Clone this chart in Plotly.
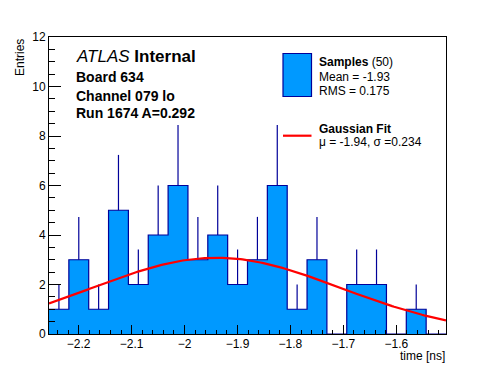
import numpy as np
import plotly.graph_objects as go

# ---------------- data ----------------
bin_low = -2.2561          # lower edge of first bin (ns)
bin_width = 0.0375         # bin width (ns)
counts = [1, 3, 1, 5, 2, 4, 6, 3, 4, 2, 3, 6, 1, 3, 0, 2, 2, 0, 1, 0]

fit_mu = -1.94
fit_sigma = 0.234
fit_amp = 3.08

x_range = [-2.2561, -1.5061]
y_range = [0, 12]
x_ticks = [-2.2, -2.1, -2.0, -1.9, -1.8, -1.7, -1.6]
y_ticks = [0, 2, 4, 6, 8, 10, 12]

legend_samples = ["<b>Samples</b> (50)", "Mean = -1.93", "RMS = 0.175"]
legend_fit = ["<b>Gaussian Fit</b>", "μ = -1.94, σ =0.234"]
info_lines = ["<i>ATLAS</i> <b>Internal</b>", "<b>Board 634</b>", "<b>Channel 079 lo</b>", "<b>Run 1674 A=0.292</b>"]

# ---------------- styling ----------------
OFF = 8                          # page body margin of the html page
W, H = 496 - OFF, 372 - OFF
L, R, T, B = 49, 446, 37, 334    # frame box in page pixels
FILL = "#0099ff"
EDGE = "#000099"
FONT = "Liberation Sans, Arial, Helvetica, sans-serif"


def px(xp):
    return (xp - L) / (R - L)


def py(yp):
    return (B - yp) / (B - T)


counts_arr = np.array(counts, dtype=float)
edges = bin_low + bin_width * np.arange(len(counts) + 1)
centers = 0.5 * (edges[:-1] + edges[1:])

fig = go.Figure()

# histogram as filled step outline
step_x = list(edges) + [edges[-1]]
step_y = list(counts_arr) + [counts_arr[-1], 0]
fig.add_trace(go.Scatter(
    x=step_x, y=step_y, mode="lines", line_shape="hv",
    line=dict(color=EDGE, width=1.2), fill="tozeroy", fillcolor=FILL,
    showlegend=False, hoverinfo="skip"))

# upper error bars (sqrt N)
mask = counts_arr > 0
fig.add_trace(go.Scatter(
    x=centers[mask], y=counts_arr[mask], mode="markers",
    marker=dict(size=1, color="rgba(0,0,0,0)"),
    error_y=dict(type="data", symmetric=False, array=np.sqrt(counts_arr[mask]),
                 arrayminus=np.zeros(mask.sum()), width=0, thickness=1.2, color=EDGE),
    showlegend=False, hoverinfo="skip"))

# gaussian fit curve
xf = np.linspace(x_range[0], x_range[1], 200)
yf = fit_amp * np.exp(-0.5 * ((xf - fit_mu) / fit_sigma) ** 2)
fig.add_trace(go.Scatter(x=xf, y=yf, mode="lines", line=dict(color="#ff0000", width=2.2),
                         showlegend=False, hoverinfo="skip"))

shapes = []
annotations = []

# legend: samples box
shapes.append(dict(type="rect", xref="paper", yref="paper",
                   x0=px(283), x1=px(311.5), y0=py(96.5), y1=py(53.5),
                   fillcolor=FILL, line=dict(color=EDGE, width=1.2)))
# legend: fit line
shapes.append(dict(type="line", xref="paper", yref="paper",
                   x0=px(283), x1=px(311.5), y0=py(135.7), y1=py(135.7),
                   line=dict(color="#ff0000", width=2.2)))

for txt, yc in zip(legend_samples, [61.5, 76.5, 90.5]):
    annotations.append(dict(text=txt, xref="paper", yref="paper", x=px(317), y=py(yc),
                            xanchor="left", yanchor="middle", showarrow=False,
                            font=dict(family=FONT, size=12, color="black")))
for txt, yc in zip(legend_fit, [129, 141.5]):
    annotations.append(dict(text=txt, xref="paper", yref="paper", x=px(317), y=py(yc),
                            xanchor="left", yanchor="middle", showarrow=False,
                            font=dict(family=FONT, size=12, color="black")))

# info text
for txt, yc, fs in zip(info_lines, [56.5, 76.7, 95.5, 113], [17, 14, 14, 14]):
    annotations.append(dict(text=txt, xref="paper", yref="paper", x=px(74), y=py(yc),
                            xanchor="left", yanchor="middle", showarrow=False,
                            font=dict(family=FONT, size=fs, color="black")))

# axis titles
annotations.append(dict(text="Entries", xref="paper", yref="paper", x=px(19.5), y=py(37),
                        xanchor="center", yanchor="top", textangle=-90, showarrow=False,
                        font=dict(family=FONT, size=12, color="black")))
annotations.append(dict(text="time [ns]", xref="paper", yref="paper", x=px(446.5), y=py(356),
                        xanchor="right", yanchor="middle", showarrow=False,
                        font=dict(family=FONT, size=12, color="black")))

fig.update_layout(
    width=W, height=H,
    margin=dict(l=L - OFF, r=W - (R - OFF), t=T - OFF, b=H - (B - OFF), pad=0),
    paper_bgcolor="white", plot_bgcolor="white",
    shapes=shapes, annotations=annotations,
    font=dict(family=FONT, size=12, color="black"),
    showlegend=False,
)
fig.update_xaxes(
    range=x_range, tickvals=x_ticks,
    ticks="inside", ticklen=9, tickwidth=1, tickcolor="black",
    minor=dict(ticks="inside", ticklen=4.5, dtick=0.02, tick0=-2.2, tickcolor="black", tickwidth=1),
    showline=True, linecolor="black", linewidth=1, mirror=True,
    showgrid=False, zeroline=False, ticklabelstandoff=-1,
    tickfont=dict(family=FONT, size=12, color="black"),
)
fig.update_yaxes(
    range=y_range, tickvals=y_ticks,
    ticks="inside", ticklen=12, tickwidth=1, tickcolor="black",
    minor=dict(ticks="inside", ticklen=6, dtick=0.5, tick0=0, tickcolor="black", tickwidth=1),
    showline=True, linecolor="black", linewidth=1, mirror=True,
    showgrid=False, zeroline=False,
    tickfont=dict(family=FONT, size=12, color="black"),
)

fig.write_html("out.html")
